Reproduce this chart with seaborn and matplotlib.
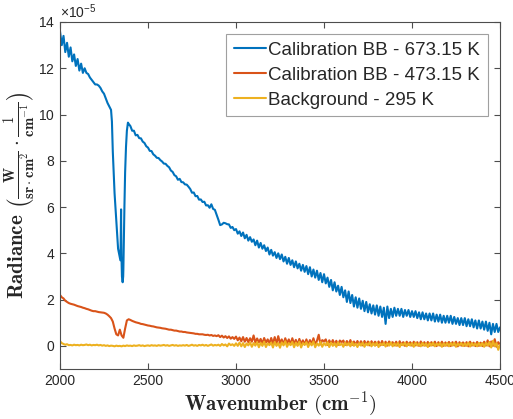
import numpy as np
import pandas as pd
import matplotlib
matplotlib.use("Agg")
import matplotlib.pyplot as plt
from matplotlib.ticker import ScalarFormatter
import seaborn as sns

# Spectral grid (cm^-1) shared by all three measurements
wavenumber = np.arange(2000, 4501, 10)

# Radiance values in units of 1e-5 W/(sr cm^2) / cm^-1
bb_673 = [
    13.6, 13.0, 13.4, 12.7, 13.1, 12.5, 12.9, 12.3, 12.6, 12.1,
    12.4, 11.9, 12.2, 11.8, 12.0, 11.8, 11.75, 11.6, 11.5, 11.4,
    11.3, 11.3, 11.25, 11.15, 11.0, 10.9, 10.7, 10.5, 10.35, 10.2,
    8.4, 6.6, 5.4, 4.2, 3.8, 3.6, 3.3, 7.5, 9.3, 9.6,
    9.5, 9.3, 9.3, 9.1, 9.12, 8.98, 8.97, 8.83, 8.77, 8.63,
    8.57, 8.43, 8.42, 8.28, 8.22, 8.13, 8.12, 8.03, 7.97, 7.88,
    7.87, 7.78, 7.72, 7.58, 7.52, 7.38, 7.33, 7.18, 7.22, 7.08,
    7.07, 6.98, 6.97, 6.88, 6.78, 6.62, 6.63, 6.47, 6.48, 6.32,
    6.33, 6.22, 6.23, 6.07, 6.08, 5.97, 6.12, 5.92, 5.88, 5.67,
    5.45, 5.22, 5.25, 5.32, 5.3, 5.26, 5.25, 5.1, 5.14, 5.0,
    5.05, 4.85, 4.95, 4.75, 4.9, 4.65, 4.8, 4.55, 4.7, 4.5,
    4.6, 4.35, 4.55, 4.25, 4.45, 4.2, 4.35, 4.1, 4.25, 3.95,
    4.15, 3.9, 4.05, 3.8, 4.0, 3.75, 3.95, 3.65, 3.85, 3.55,
    3.8, 3.5, 3.7, 3.4, 3.65, 3.35, 3.55, 3.25, 3.5, 3.2,
    3.45, 3.1, 3.4, 3.0, 3.3, 2.95, 3.25, 2.85, 3.15, 2.75,
    3.1, 2.7, 2.95, 2.55, 2.85, 2.4, 2.75, 2.35, 2.6, 2.2,
    2.55, 2.1, 2.4, 1.9, 2.35, 1.85, 2.2, 1.7, 2.1, 1.65,
    2.05, 1.6, 1.95, 1.5, 1.9, 1.45, 1.8, 1.4, 1.75, 1.35,
    1.75, 1.3, 1.7, 1.25, 1.65, 0.95, 1.7, 1.2, 1.6, 1.25,
    1.65, 1.3, 1.6, 1.3, 1.6, 1.25, 1.55, 1.3, 1.55, 1.25,
    1.5, 1.25, 1.5, 1.2, 1.45, 1.15, 1.45, 1.15, 1.4, 1.1,
    1.4, 1.1, 1.4, 1.05, 1.35, 1.05, 1.35, 1.0, 1.3, 1.0,
    1.3, 1.0, 1.3, 0.95, 1.25, 0.95, 1.2, 0.9, 1.2, 0.9,
    1.2, 0.85, 1.15, 0.85, 1.15, 0.8, 1.1, 0.75, 1.1, 0.75,
    1.05, 0.7, 1.05, 0.65, 1.0, 0.5, 0.95, 0.6, 0.95, 0.6,
    0.8,
]

# Finer samples across the CO2 absorption band of the hot blackbody
co2_wavenumber = [2295, 2343, 2345, 2347, 2349, 2352, 2356, 2359, 2362, 2366, 2375, 2386]
co2_bb_673 = [9.7, 3.7, 4.5, 5.9, 3.9, 3.0, 2.75, 3.0, 4.2, 6.0, 8.6, 9.65]

bb_473 = [
    2.2, 2.1, 2.05, 1.95, 1.9, 1.85, 1.82, 1.8, 1.78, 1.75,
    1.72, 1.7, 1.68, 1.65, 1.63, 1.6, 1.58, 1.55, 1.52, 1.5,
    1.5, 1.48, 1.46, 1.45, 1.44, 1.43, 1.4, 1.35, 1.28, 1.2,
    1.05, 0.75, 0.5, 0.45, 0.7, 0.45, 0.35, 0.75, 1.1, 1.15,
    1.12, 1.08, 1.05, 1.02, 1.0, 0.98, 0.95, 0.94, 0.92, 0.9,
    0.88, 0.87, 0.85, 0.84, 0.82, 0.8, 0.79, 0.78, 0.76, 0.75,
    0.74, 0.72, 0.7, 0.7, 0.68, 0.66, 0.66, 0.64, 0.62, 0.62,
    0.6, 0.6, 0.58, 0.57, 0.56, 0.55, 0.54, 0.52, 0.52, 0.5,
    0.5, 0.5, 0.48, 0.47, 0.48, 0.45, 0.47, 0.43, 0.45, 0.42,
    0.46, 0.38, 0.44, 0.36, 0.42, 0.34, 0.41, 0.31, 0.38, 0.3,
    0.4, 0.24, 0.36, 0.2, 0.38, 0.18, 0.34, 0.16, 0.33, 0.18,
    0.45, 0.14, 0.32, 0.15, 0.3, 0.1, 0.34, 0.14, 0.28, 0.1,
    0.34, 0.1, 0.38, 0.08, 0.42, 0.12, 0.28, 0.06, 0.33, 0.1,
    0.28, 0.06, 0.33, 0.08, 0.26, 0.04, 0.3, 0.08, 0.24, 0.06,
    0.28, 0.04, 0.25, 0.08, 0.33, 0.06, 0.22, 0.48, 0.06, 0.25,
    0.2, 0.28, 0.04, 0.24, 0.08, 0.25, 0.06, 0.22, 0.04, 0.23,
    0.16, 0.23, 0.04, 0.21, 0.06, 0.25, 0.04, 0.19, 0.06, 0.21,
    0.06, 0.2, 0.02, 0.21, 0.06, 0.19, 0.02, 0.2, 0.06, 0.18,
    0.04, 0.19, 0.02, 0.21, 0.04, 0.18, 0.01, 0.19, 0.06, 0.16,
    0.02, 0.18, 0.01, 0.2, 0.04, 0.16, 0.0, 0.18, 0.04, 0.16,
    0.01, 0.18, 0.02, 0.16, 0.0, 0.19, 0.02, 0.16, 0.01, 0.17,
    0.0, 0.16, 0.02, 0.18, -0.01, 0.16, 0.01, 0.18, 0.0, 0.15,
    0.01, 0.17, -0.01, 0.16, 0.02, 0.18, -0.02, 0.16, 0.01, 0.15,
    0.0, 0.16, -0.02, 0.18, 0.01, 0.14, -0.01, 0.17, 0.0, 0.14,
    -0.01, 0.18, 0.01, 0.24, -0.02, 0.19, 0.0, 0.29, -0.04, 0.16,
    0.05,
]

background = [
    0.2, 0.12, 0.08, 0.05, 0.07, 0.03, 0.04, 0.02, 0.05, 0.03,
    0.04, 0.02, 0.05, 0.03, 0.04, 0.06, 0.03, 0.05, 0.02, 0.04,
    0.03, 0.05, 0.02, 0.04, 0.01, 0.03, 0.0, 0.02, -0.01, 0.01,
    0.0, -0.02, 0.01, -0.01, 0.0, -0.02, 0.01, -0.01, 0.02, 0.0,
    0.01, -0.01, 0.02, 0.0, 0.01, 0.03, 0.0, 0.02, -0.01, 0.01,
    0.02, 0.0, 0.03, 0.01, 0.02, 0.0, 0.03, 0.01, 0.02, 0.04,
    0.01, 0.03, 0.0, 0.02, 0.04, 0.01, 0.03, 0.0, 0.02, 0.01,
    0.03, 0.01, 0.04, 0.0, 0.02, 0.05, 0.01, 0.03, 0.0, 0.04,
    0.02, 0.05, 0.01, 0.04, 0.0, 0.03, 0.06, 0.01, 0.04, 0.02,
    0.05, 0.0, 0.08, 0.02, 0.06, -0.02, 0.1, 0.03, 0.07, 0.0,
    0.11, 0.0, 0.14, -0.02, 0.12, -0.05, 0.1, 0.02, 0.15, -0.04,
    0.12, 0.01, 0.16, -0.06, 0.13, 0.0, 0.18, -0.05, 0.11, 0.03,
    0.14, -0.07, 0.17, 0.0, 0.12, -0.08, 0.15, 0.02, 0.2, -0.04,
    0.12, 0.03, 0.17, -0.06, 0.14, 0.0, 0.18, -0.07, 0.12, 0.04,
    0.16, -0.05, 0.13, 0.02, 0.19, -0.06, 0.11, 0.01, 0.17, -0.04,
    0.12, 0.02, 0.16, -0.05, 0.14, 0.0, 0.12, -0.04, 0.15, 0.03,
    0.1, -0.04, 0.14, 0.02, 0.12, -0.02, 0.16, 0.0, 0.1, -0.05,
    0.12, 0.01, 0.14, -0.04, 0.11, 0.02, 0.15, -0.02, 0.12, 0.0,
    0.14, -0.05, 0.1, 0.03, 0.13, -0.03, 0.12, 0.01, 0.15, -0.02,
    0.11, 0.0, 0.13, -0.05, 0.1, 0.02, 0.14, -0.02, 0.11, 0.01,
    0.12, -0.04, 0.14, 0.01, 0.1, -0.02, 0.13, 0.0, 0.11, -0.05,
    0.12, 0.01, 0.14, -0.02, 0.1, 0.02, 0.13, -0.04, 0.11, 0.0,
    0.13, -0.02, 0.12, 0.01, 0.14, -0.04, 0.1, 0.02, 0.12, -0.01,
    0.11, 0.0, 0.14, -0.03, 0.12, 0.01, 0.1, -0.02, 0.13, 0.0,
    0.12, -0.04, 0.14, 0.01, 0.17, -0.07, 0.22, -0.02, 0.12, -0.17,
    0.05,
]

series_names = ["Calibration BB - 673.15 K", "Calibration BB - 473.15 K", "Background - 295 K"]
series_colors = ["#0072BD", "#D95319", "#EDB120"]
x_ticks = [2000, 2500, 3000, 3500, 4000, 4500]
y_ticks = [0, 2, 4, 6, 8, 10, 12, 14]
SCALE = 1e-5

# Long-form table: merge the fine CO2-band samples into the hot blackbody curve
hot = pd.DataFrame({"wn": np.concatenate([wavenumber, co2_wavenumber]),
                    "val": np.concatenate([bb_673, co2_bb_673])}).sort_values("wn")
hot["series"] = series_names[0]
warm = pd.DataFrame({"wn": wavenumber, "val": bb_473, "series": series_names[1]})
bg = pd.DataFrame({"wn": wavenumber, "val": background, "series": series_names[2]})
df = pd.concat([hot, warm, bg], ignore_index=True)
df["radiance"] = df["val"] * SCALE

sns.set_style("white")
plt.rcParams["font.family"] = ["Liberation Sans", "DejaVu Sans"]
plt.rcParams["mathtext.fontset"] = "custom"
plt.rcParams["mathtext.rm"] = "Liberation Sans"
plt.rcParams["mathtext.it"] = "Liberation Sans:italic"
plt.rcParams["mathtext.bf"] = "Liberation Sans:bold"

fig = plt.figure(figsize=(5.13, 4.19), dpi=100)
ax = fig.add_axes([60 / 513, 1 - 369 / 419, 440 / 513, 347 / 419])

sns.lineplot(data=df, x="wn", y="radiance", hue="series", hue_order=series_names,
             palette=series_colors, estimator=None, sort=False, linewidth=1.5,
             ax=ax)

ax.set_xlim(2000, 4500)
ax.set_ylim(-1 * SCALE, 14 * SCALE)
ax.set_xticks(x_ticks)
ax.set_yticks([v * SCALE for v in y_ticks])

fmt = ScalarFormatter(useMathText=True)
fmt.set_powerlimits((-5, -5))
ax.yaxis.set_major_formatter(fmt)

axis_color = "#4d4d4d"
for side in ["left", "right", "top", "bottom"]:
    ax.spines[side].set_visible(True)
    ax.spines[side].set_color(axis_color)
    ax.spines[side].set_linewidth(0.8)
ax.tick_params(direction="in", length=4, width=0.8, color=axis_color,
               labelsize=10, labelcolor="#262626", top=True, right=True,
               bottom=True, left=True)
ax.yaxis.get_offset_text().set_fontsize(10)
ax.yaxis.get_offset_text().set_color("#262626")

ax.set_xlabel(r"$\mathbf{Wavenumber\ (cm^{-1})}$", fontsize=15,
              math_fontfamily="cm", color="#262626", labelpad=1)
ax.set_ylabel(r"$\mathbf{Radiance}\ \left(\frac{\mathbf{W}}{\mathbf{sr\cdot cm^2}}"
              r"\cdot\frac{\mathbf{1}}{\mathbf{cm^{-1}}}\right)$",
              fontsize=15, math_fontfamily="cm", color="#262626", labelpad=1)

leg = ax.legend(loc="upper right", fontsize=13.5, frameon=True, fancybox=False,
                framealpha=1, edgecolor="#a0a0a0", handlelength=1.7,
                handletextpad=0.15, borderaxespad=0.65, borderpad=0.4,
                labelspacing=0.42)
leg.get_frame().set_linewidth(0.8)
for line in leg.get_lines():
    line.set_linewidth(1.5)

fig.savefig("out.png", dpi=100)
